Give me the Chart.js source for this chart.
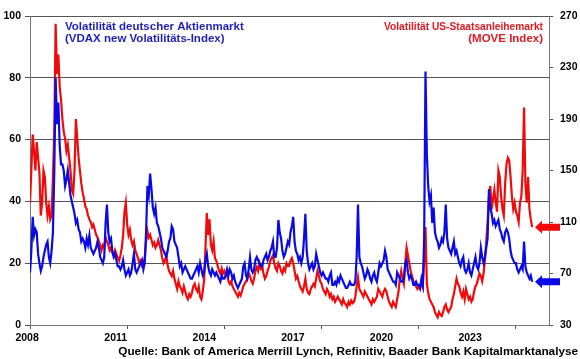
<!DOCTYPE html>
<html><head><meta charset="utf-8">
<script src="https://cdn.jsdelivr.net/npm/chart.js@4/dist/chart.umd.min.js"></script>
<style>html,body{margin:0;padding:0;background:#fff;overflow:hidden}canvas{display:block}</style>
</head><body>
<canvas id="c" width="580" height="359"></canvas>
<script>
// ---------- DATA ----------
const dates = [
"2008-01-01","2008-01-16","2008-02-01","2008-02-16","2008-03-01","2008-03-16","2008-04-01","2008-04-16","2008-05-01","2008-05-16","2008-06-01","2008-06-16","2008-07-01","2008-07-16","2008-08-01","2008-08-16","2008-09-01","2008-09-16","2008-10-01","2008-10-16","2008-11-01","2008-11-16","2008-12-01","2008-12-16",
"2009-01-01","2009-01-16","2009-02-01","2009-02-16","2009-03-01","2009-03-16","2009-04-01","2009-04-16","2009-05-01","2009-05-16","2009-06-01","2009-06-16","2009-07-01","2009-07-16","2009-08-01","2009-08-16","2009-09-01","2009-09-16","2009-10-01","2009-10-16","2009-11-01","2009-11-16","2009-12-01","2009-12-16",
"2010-01-01","2010-01-16","2010-02-01","2010-02-16","2010-03-01","2010-03-16","2010-04-01","2010-04-16","2010-05-01","2010-05-16","2010-06-01","2010-06-16","2010-07-01","2010-07-16","2010-08-01","2010-08-16","2010-09-01","2010-09-16","2010-10-01","2010-10-16","2010-11-01","2010-11-16","2010-12-01","2010-12-16",
"2011-01-01","2011-01-16","2011-02-01","2011-02-16","2011-03-01","2011-03-16","2011-04-01","2011-04-16","2011-05-01","2011-05-16","2011-06-01","2011-06-16","2011-07-01","2011-07-16","2011-08-01","2011-08-16","2011-09-01","2011-09-16","2011-10-01","2011-10-16","2011-11-01","2011-11-16","2011-12-01","2011-12-16",
"2012-01-01","2012-01-16","2012-02-01","2012-02-16","2012-03-01","2012-03-16","2012-04-01","2012-04-16","2012-05-01","2012-05-16","2012-06-01","2012-06-16","2012-07-01","2012-07-16","2012-08-01","2012-08-16","2012-09-01","2012-09-16","2012-10-01","2012-10-16","2012-11-01","2012-11-16","2012-12-01","2012-12-16",
"2013-01-01","2013-01-16","2013-02-01","2013-02-16","2013-03-01","2013-03-16","2013-04-01","2013-04-16","2013-05-01","2013-05-16","2013-06-01","2013-06-16","2013-07-01","2013-07-16","2013-08-01","2013-08-16","2013-09-01","2013-09-16","2013-10-01","2013-10-16","2013-11-01","2013-11-16","2013-12-01","2013-12-16",
"2014-01-01","2014-01-16","2014-02-01","2014-02-16","2014-03-01","2014-03-16","2014-04-01","2014-04-16","2014-05-01","2014-05-16","2014-06-01","2014-06-16","2014-07-01","2014-07-16","2014-08-01","2014-08-16","2014-09-01","2014-09-16","2014-10-01","2014-10-16","2014-11-01","2014-11-16","2014-12-01","2014-12-16",
"2015-01-01","2015-01-16","2015-02-01","2015-02-16","2015-03-01","2015-03-16","2015-04-01","2015-04-16","2015-05-01","2015-05-16","2015-06-01","2015-06-16","2015-07-01","2015-07-16","2015-08-01","2015-08-16","2015-09-01","2015-09-16","2015-10-01","2015-10-16","2015-11-01","2015-11-16","2015-12-01","2015-12-16",
"2016-01-01","2016-01-16","2016-02-01","2016-02-16","2016-03-01","2016-03-16","2016-04-01","2016-04-16","2016-05-01","2016-05-16","2016-06-01","2016-06-16","2016-07-01","2016-07-16","2016-08-01","2016-08-16","2016-09-01","2016-09-16","2016-10-01","2016-10-16","2016-11-01","2016-11-16","2016-12-01","2016-12-16",
"2017-01-01","2017-01-16","2017-02-01","2017-02-16","2017-03-01","2017-03-16","2017-04-01","2017-04-16","2017-05-01","2017-05-16","2017-06-01","2017-06-16","2017-07-01","2017-07-16","2017-08-01","2017-08-16","2017-09-01","2017-09-16","2017-10-01","2017-10-16","2017-11-01","2017-11-16","2017-12-01","2017-12-16",
"2018-01-01","2018-01-16","2018-02-01","2018-02-16","2018-03-01","2018-03-16","2018-04-01","2018-04-16","2018-05-01","2018-05-16","2018-06-01","2018-06-16","2018-07-01","2018-07-16","2018-08-01","2018-08-16","2018-09-01","2018-09-16","2018-10-01","2018-10-16","2018-11-01","2018-11-16","2018-12-01","2018-12-16",
"2019-01-01","2019-01-16","2019-02-01","2019-02-16","2019-03-01","2019-03-16","2019-04-01","2019-04-16","2019-05-01","2019-05-16","2019-06-01","2019-06-16","2019-07-01","2019-07-16","2019-08-01","2019-08-16","2019-09-01","2019-09-16","2019-10-01","2019-10-16","2019-11-01","2019-11-16","2019-12-01","2019-12-16",
"2020-01-01","2020-01-16","2020-02-01","2020-02-16","2020-03-01","2020-03-16","2020-04-01","2020-04-16","2020-05-01","2020-05-16","2020-06-01","2020-06-16","2020-07-01","2020-07-16","2020-08-01","2020-08-16","2020-09-01","2020-09-16","2020-10-01","2020-10-16","2020-11-01","2020-11-16","2020-12-01","2020-12-16",
"2021-01-01","2021-01-16","2021-02-01","2021-02-16","2021-03-01","2021-03-16","2021-04-01","2021-04-16","2021-05-01","2021-05-16","2021-06-01","2021-06-16","2021-07-01","2021-07-16","2021-08-01","2021-08-16","2021-09-01","2021-09-16","2021-10-01","2021-10-16","2021-11-01","2021-11-16","2021-12-01","2021-12-16",
"2022-01-01","2022-01-16","2022-02-01","2022-02-16","2022-03-01","2022-03-16","2022-04-01","2022-04-16","2022-05-01","2022-05-16","2022-06-01","2022-06-16","2022-07-01","2022-07-16","2022-08-01","2022-08-16","2022-09-01","2022-09-16","2022-10-01","2022-10-16","2022-11-01","2022-11-16","2022-12-01","2022-12-16",
"2023-01-01","2023-01-16","2023-02-01","2023-02-16","2023-03-01","2023-03-16","2023-04-01","2023-04-16","2023-05-01","2023-05-16","2023-06-01","2023-06-16","2023-07-01"
];

// VDAX new (left axis)
const vdax = [
17,24,35,29,31,30,23,20,17.5,19,22,24,26,27,22,20,24,30,50,80,65,72,58,52,
52,50,45,47,50,46,42,40,38,36,33,34,31,30,27,28,27,25,28,26,29,25,24,23,
24,25,27,25,22,21,20,22,33,39,30,27,28,24,22,23,21,19,19,18,19,21,18,16,
17,18,16,17,20,23,18,17,18,19,20,21,18,20,30,45,42,49,44,38,36,38,33,32,
30,28,25,24,23,22,24,27,28,32,31,27,26,25,22,19,20,17,18,19,18,17,16,15,
15,16,17,18,19,17,20,18,16,17,21,23,19,17,16,18,17,16,17,16,15,14,16,15,
15,16,18,16,18,17,15,16,14,13,12,13,14,15,19,20,16,15,18,22,18,17,18,21,
22,21,20,19,19,21,22,23,21,22,24,25,27,22,22,25,34,30,28,24,22,23,25,27,
26,30,32,35,27,24,23,21,22,20,22,28,36,24,20,18,19,20,18,19,23,21,19,17,
16,17,16,15,15,14,16,17,13,13,14,13,15,14,16,15,14,13,12,12,13,14,13,13,
13,14,22,39,22,20,19,17,15,16,18,17,15,14,16,17,15,14,17,20,19,20,21,24,
22,18,17,16,15,14,14,13,17,16,15,14,14,15,20,21,17,15,16,15,13,13,14,13,
13,12,15,13,28,82,55,45,40,42,33,38,30,28,27,25,26,28,27,30,39,28,25,24,
23,25,27,23,24,22,20,19,21,22,18,17,18,20,17,16,18,20,22,19,18,20,25,22,
20,22,25,28,44,38,36,33,34,32,33,34,31,30,28,27,30,31,30,28,24,22,21,20,
20,18,17,18,19,18,27,19,17,16,15,16,14
];

// MOVE Index (right axis)
const move = [
125,150,178,165,150,172,160,148,115,125,150,145,125,115,122,112,115,145,180,264,225,240,215,205,
190,180,175,165,170,160,150,135,132,150,190,175,160,150,140,133,128,122,120,115,112,110,106,108,
104,100,98,95,92,88,92,90,98,95,92,88,90,86,84,88,85,82,80,84,90,100,118,125,
108,100,104,96,92,95,88,85,82,78,80,76,78,82,95,103,98,100,96,92,94,90,92,96,
92,88,82,78,80,84,76,72,70,68,72,66,62,58,64,60,58,55,60,56,52,50,54,52,
55,60,62,58,56,60,52,50,56,65,90,117,100,112,92,88,95,82,80,76,72,70,74,70,
72,68,70,64,62,64,60,58,56,54,52,55,53,56,60,62,64,66,70,68,64,62,66,72,
75,72,78,74,76,70,66,68,72,75,80,82,84,78,74,72,78,76,72,70,74,72,78,76,
76,80,82,78,72,66,68,64,60,58,56,60,66,58,55,54,58,60,62,60,66,72,68,64,
62,58,56,54,58,56,52,54,50,52,48,50,52,50,48,46,50,47,46,44,48,46,49,47,
48,52,60,67,58,56,54,52,56,54,52,50,48,46,50,48,50,52,58,56,54,52,56,58,
56,52,48,46,44,48,46,44,50,56,66,72,66,62,78,90,84,78,72,68,64,62,60,58,
60,58,64,60,80,106,62,55,50,48,46,44,40,38,36,40,38,37,40,44,46,42,40,42,
44,50,54,60,66,62,60,55,52,56,50,58,54,50,52,48,50,56,60,62,66,70,68,64,
70,80,95,110,130,138,120,128,135,125,118,150,145,130,120,115,140,155,160,158,145,130,120,125,
118,115,110,125,130,150,199,140,125,145,120,112,106
];

const xTickYears = [2008, 2011, 2014, 2017, 2020, 2023];
const xTickLabels = ["2008", "2011", "2014", "2017", "2020", "2023"];
const seriesNames = ["Volatilität deutscher Aktienmarkt", "(VDAX new Volatilitäts-Index)"];
const seriesNames2 = ["Volatilität US-Staatsanleihemarkt", "(MOVE Index)"];
const sourceText = "Quelle: Bank of America Merrill Lynch, Refinitiv, Baader Bank Kapitalmarktanalyse";

// ---------- helpers ----------
function toYear(s) {
  const [y, m, d] = s.split("-").map(Number);
  return y + (m - 1) / 12 + (d - 1) / 365;
}
const X_MIN = 2008, X_MAX = 2024.02;
const LABEL_START = 2007.91, LABEL_STEP = 2.735;

const FONT = '"Liberation Sans", Arial, sans-serif';
const BLUE = '#0a0ae6', RED = '#f20a0a';
const BLUE_TXT = '#1f1fb8', RED_TXT = '#e01a22';

const overlay = {
  id: 'overlay',
  afterDraw(chart) {
    const ctx = chart.ctx;
    const ca = chart.chartArea;
    ctx.save();
    // legend texts
    ctx.font = 'bold 11.5px ' + FONT;
    ctx.textBaseline = 'alphabetic';
    ctx.fillStyle = BLUE_TXT;
    ctx.textAlign = 'left';
    ctx.fillText(seriesNames[0], 65, 30);
    ctx.fillText(seriesNames[1], 65, 42);
    ctx.fillStyle = RED_TXT;
    ctx.textAlign = 'right';
    ctx.fillText(seriesNames2[0], 543, 30, 159);
    ctx.fillText(seriesNames2[1], 543, 42);
    // source
    ctx.font = 'bold 11.75px ' + FONT;
    ctx.fillStyle = '#000';
    ctx.textAlign = 'right';
    ctx.fillText(sourceText, 578, 355);
    // arrows at last values
    const drawArrow = (y, color) => {
      const tip = ca.right - 14, headEnd = tip + 7, tail = ca.right + 11;
      ctx.fillStyle = color;
      ctx.beginPath();
      ctx.moveTo(tip, y);
      ctx.lineTo(headEnd, y - 6.5);
      ctx.lineTo(headEnd, y - 3.5);
      ctx.lineTo(tail, y - 3.5);
      ctx.lineTo(tail, y + 3.5);
      ctx.lineTo(headEnd, y + 3.5);
      ctx.lineTo(headEnd, y + 6.5);
      ctx.closePath();
      ctx.fill();
    };
    drawArrow(chart.scales.y2.getPixelForValue(move[move.length - 1]), RED);
    drawArrow(chart.scales.y.getPixelForValue(vdax[vdax.length - 1]), BLUE);
    ctx.restore();
  }
};

const xs = dates.map(toYear);
const tickFont = { family: FONT, size: 10.5, weight: 'bold' };

new Chart(document.getElementById('c'), {
  type: 'line',
  data: {
    datasets: [
      { label: 'VDAX', data: xs.map((x, i) => ({ x, y: vdax[i] })), yAxisID: 'y', xAxisID: 'x',
        borderColor: BLUE, borderWidth: 2.2, pointRadius: 0, tension: 0, fill: false },
      { label: 'MOVE', data: xs.map((x, i) => ({ x, y: move[i] })), yAxisID: 'y2', xAxisID: 'x',
        borderColor: RED, borderWidth: 2.2, pointRadius: 0, tension: 0, fill: false }
    ]
  },
  options: {
    responsive: false,
    devicePixelRatio: 1,
    animation: false,
    layout: { padding: { top: 16, left: 0, right: 0, bottom: 0 } },
    plugins: { legend: { display: false }, tooltip: { enabled: false } },
    scales: {
      x: {
        type: 'linear', position: 'bottom', min: X_MIN, max: X_MAX, weight: 0,
        afterBuildTicks: a => { a.ticks = xTickYears.map(v => ({ value: v })); },
        afterFit: a => { a.height = 4; },
        ticks: { display: false },
        grid: { drawOnChartArea: false, drawTicks: true, tickLength: 4, color: '#555' },
        border: { display: true, color: '#777', width: 1 }
      },
      xLab: {
        type: 'linear', position: 'bottom', min: X_MIN, max: X_MAX, weight: 1,
        afterBuildTicks: a => { a.ticks = xTickLabels.map((_, i) => ({ value: LABEL_START + i * LABEL_STEP })); },
        afterFit: a => { a.height = 30; },
        ticks: { font: tickFont, color: '#000', autoSkip: false, maxRotation: 0, padding: 3,
                 callback: (v, i) => xTickLabels[i] },
        grid: { display: false, drawTicks: false },
        border: { display: false }
      },
      y: {
        position: 'left', min: 0, max: 100,
        afterFit: a => { a.width = 30; },
        ticks: { stepSize: 20, font: tickFont, color: '#000', padding: 4 },
        grid: { color: '#555', lineWidth: 1, tickLength: 5 },
        border: { display: true, color: '#777', width: 1 }
      },
      y2: {
        position: 'right', min: 30, max: 270,
        afterFit: a => { a.width = 31; },
        ticks: { stepSize: 40, font: tickFont, color: '#000', padding: 7 },
        grid: { drawOnChartArea: false, color: '#555', tickLength: 4 },
        border: { display: true, color: '#777', width: 1 }
      }
    }
  },
  plugins: [overlay]
});
</script>
</body></html>
